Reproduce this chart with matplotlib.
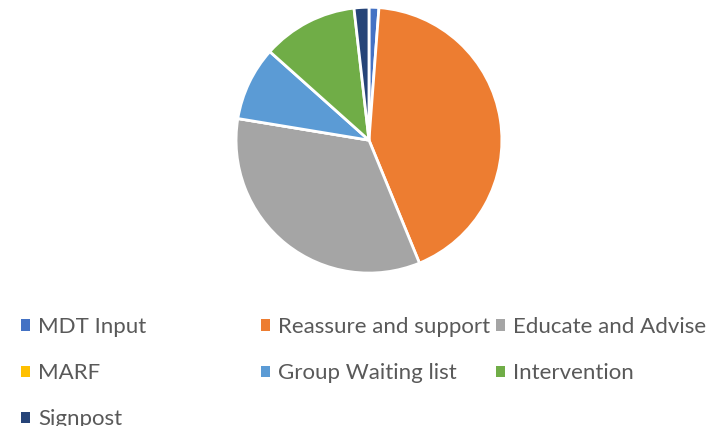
import matplotlib
matplotlib.use("Agg")
import matplotlib.pyplot as plt
from matplotlib.patches import Patch

labels = ["MDT Input", "Reassure and support", "Educate and Advise", "MARF",
          "Group Waiting list", "Intervention", "Signpost"]
values = [1.2, 42.6, 33.8, 0.0, 9.0, 11.6, 1.8]
colours = ["#4472C4", "#ED7D31", "#A5A5A5", "#FFC000", "#5B9BD5", "#70AD47", "#264478"]

plt.rcParams['font.family'] = ['Lato', 'DejaVu Sans']

fig = plt.figure(figsize=(7.13, 4.26), dpi=100)
ax = fig.add_axes([0.331, 0.359, 0.373, 0.624])
ax.pie(values, colors=colours, startangle=90, counterclock=False, radius=1,
       wedgeprops={'edgecolor': 'white', 'linewidth': 2})
ax.set_xlim(-1, 1)
ax.set_ylim(-1, 1)
ax.set_aspect('equal')

# legend laid out in columns, like the Office chart
columns = [[0, 3, 6], [1, 4], [2, 5]]
col_x = [0.030, 0.366, 0.696]
for cx, idx in zip(col_x, columns):
    handles = [Patch(facecolor=colours[i], linewidth=0, label=labels[i]) for i in idx]
    fig.legend(handles=handles, loc='upper left', bbox_to_anchor=(cx, 0.256),
               frameon=False, fontsize=16, labelcolor='#595959',
               handlelength=0.4, handleheight=0.4, handletextpad=0.35,
               labelspacing=1.18, borderaxespad=0, borderpad=0)

fig.savefig("out.png", dpi=100)
